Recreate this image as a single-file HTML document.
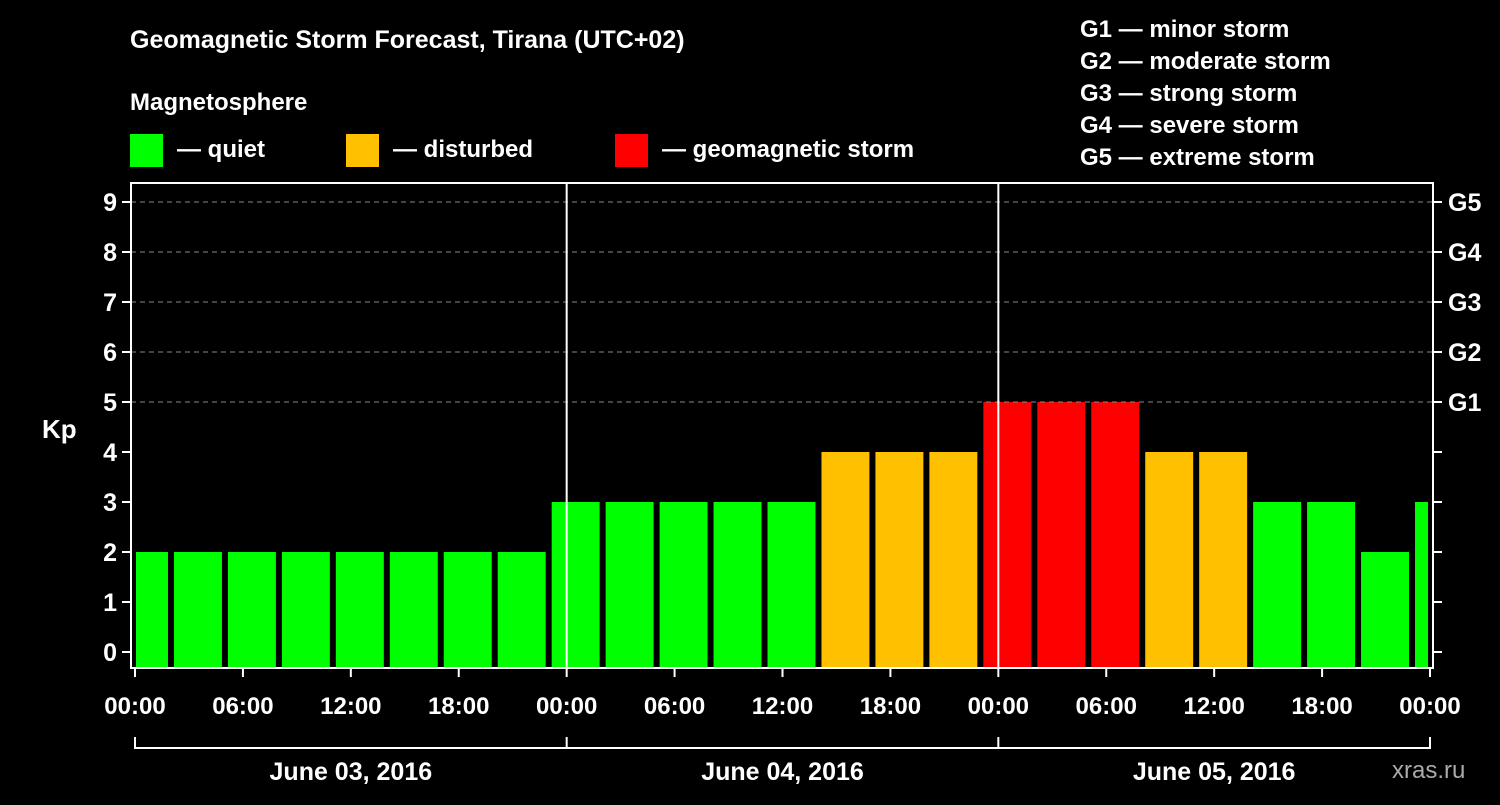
<!DOCTYPE html>
<html><head><meta charset="utf-8"><style>
body{margin:0;background:#000;width:1500px;height:800px;overflow:hidden}
svg text{font-family:"Liberation Sans",Arial,sans-serif;font-weight:bold;fill:#fff}
</style></head><body>
<svg id="c" width="1500" height="800" xmlns="http://www.w3.org/2000/svg">
<rect width="1500" height="800" fill="#000"/>
<text x="130" y="48" font-size="25">Geomagnetic Storm Forecast, Tirana (UTC+02)</text>
<text x="130" y="110" font-size="24">Magnetosphere</text>
<g><rect x="130" y="134" width="33" height="33" fill="#00ff00"/><text x="177" y="157" font-size="24">— quiet</text></g>
<g><rect x="346" y="134" width="33" height="33" fill="#ffc000"/><text x="393" y="157" font-size="24">— disturbed</text></g>
<g><rect x="615" y="134" width="33" height="33" fill="#ff0000"/><text x="662" y="157" font-size="24">— geomagnetic storm</text></g>
<g font-size="24">
<text x="1080" y="37">G1 — minor storm</text>
<text x="1080" y="69">G2 — moderate storm</text>
<text x="1080" y="101">G3 — strong storm</text>
<text x="1080" y="133">G4 — severe storm</text>
<text x="1080" y="165">G5 — extreme storm</text>
</g>
<text x="42" y="438" font-size="26">Kp</text>
<text x="1392" y="778" font-size="24" style="fill:#aaa;font-weight:normal">xras.ru</text>
<g id="bars"></g>
<g id="axes"></g>
</svg>
<script>
const kpValues=[2,2,2,2,2,2,2,2,3,3,3,3,3,4,4,4,5,5,5,4,4,3,3,2,3];
const barHours=[0.5,3.5,6.5,9.5,12.5,15.5,18.5,21.5,24.5,27.5,30.5,33.5,36.5,39.5,42.5,45.5,48.5,51.5,54.5,57.5,60.5,63.5,66.5,69.5,72.5];
const timeTicks=["00:00","06:00","12:00","18:00","00:00","06:00","12:00","18:00","00:00","06:00","12:00","18:00","00:00"];
const dayLabels=["June 03, 2016","June 04, 2016","June 05, 2016"];
const kpTicks=[0,1,2,3,4,5,6,7,8,9];
const gLabels=["G1","G2","G3","G4","G5"];

const NS="http://www.w3.org/2000/svg";
const X0=135,X1=1430,HOURS=72,BL=131,BR=1433,BT=183,BB=668;
const xs=h=>X0+(X1-X0)*h/HOURS;
const ys=v=>652-50*v;
function mk(tag,attrs,parent){const e=document.createElementNS(NS,tag);for(const k in attrs)e.setAttribute(k,attrs[k]);parent.appendChild(e);return e;}
const bars=document.getElementById('bars'),axes=document.getElementById('axes');
const color=v=>v>=5?"#ff0000":v>=4?"#ffc000":"#00ff00";
// grid
for(let v=5;v<=9;v++){const l=mk('line',{x1:BL,x2:BR,y1:ys(v),y2:ys(v),stroke:'#888','stroke-dasharray':'5,4','stroke-width':1},axes);

}
// bars
const bw=(X1-X0)/HOURS*3-6;
kpValues.forEach((v,i)=>{let cx=xs(barHours[i]);let x0=Math.max(cx-bw/2,BL+5),x1=Math.min(cx+bw/2,BR-5);
const r=mk('rect',{x:x0,y:ys(v),width:x1-x0,height:BB-ys(v),fill:color(v)},bars);

});
// frame
const f=mk('rect',{x:BL,y:BT,width:BR-BL,height:BB-BT,fill:'none',stroke:'#fff','stroke-width':2},axes);


// day separators
for(let d=1;d<3;d++){const l=mk('line',{x1:xs(d*24),x2:xs(d*24),y1:BT,y2:BB,stroke:'#fff','stroke-width':2},axes);

}
// y ticks
kpTicks.forEach(v=>{mk('line',{x1:BL-9,x2:BL,y1:ys(v),y2:ys(v),stroke:'#fff','stroke-width':2},axes);
mk('line',{x1:BR,x2:BR+9,y1:ys(v),y2:ys(v),stroke:'#fff','stroke-width':2},axes);
const t=mk('text',{x:BL-14,y:ys(v)+9,'font-size':25,'text-anchor':'end'},axes);t.textContent=v;

});
gLabels.forEach((g,i)=>{const t=mk('text',{x:BR+15,y:ys(5+i)+9,'font-size':25},axes);t.textContent=g;

});
// x ticks
timeTicks.forEach((s,i)=>{const x=xs(i*6);mk('line',{x1:x,x2:x,y1:BB,y2:BB+9,stroke:'#fff','stroke-width':2},axes);
const t=mk('text',{x:x,y:714,'font-size':24,'text-anchor':'middle'},axes);t.textContent=s;

});
// day bracket
mk('line',{x1:X0,x2:X1,y1:748,y2:748,stroke:'#fff','stroke-width':2},axes);
for(let d=0;d<=3;d++)mk('line',{x1:xs(d*24),x2:xs(d*24),y1:737,y2:749,stroke:'#fff','stroke-width':2},axes);
dayLabels.forEach((s,i)=>{const t=mk('text',{x:xs(i*24+12),y:780,'font-size':25,'text-anchor':'middle'},axes);t.textContent=s;

});
</script>
</body></html>
